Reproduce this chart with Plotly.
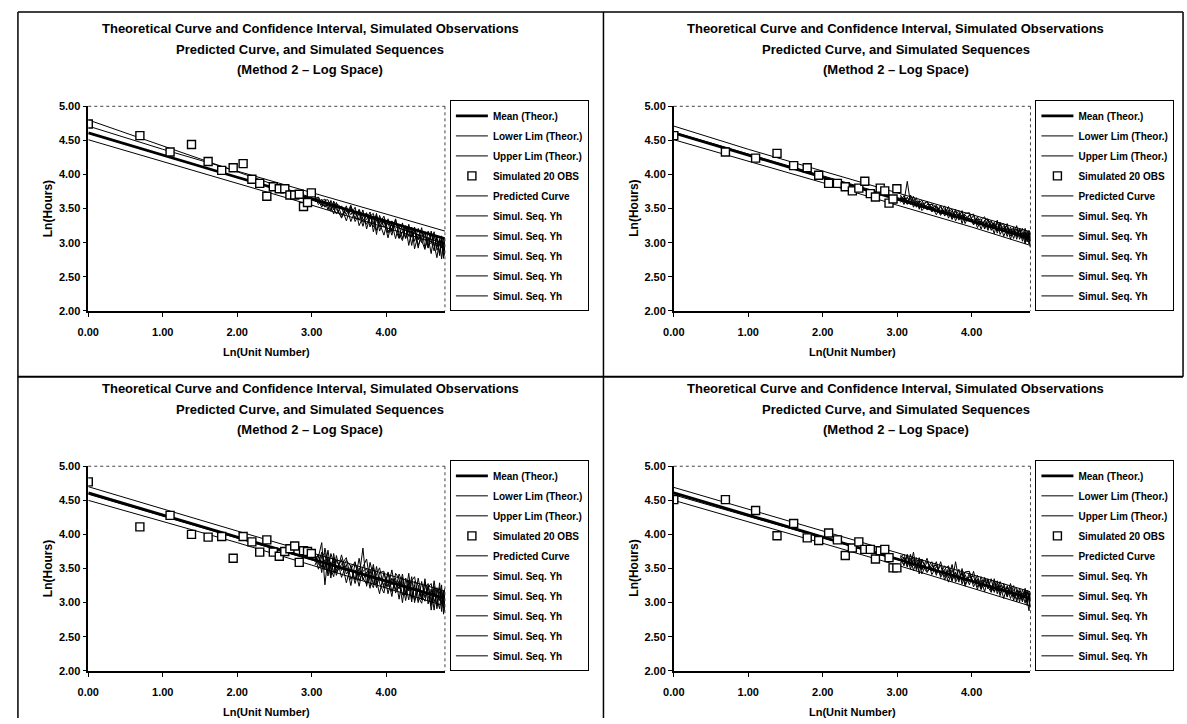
import numpy as np
import plotly.graph_objects as go

# ---------------- data ----------------
obs_units = list(range(1, 21))
seq_units = [21, 22, 23, 24, 25, 26, 27, 28, 30, 32, 34, 36, 38, 40, 42, 44, 46, 48, 50, 53,
             56, 59, 62, 65, 68, 71, 74, 77, 80, 84, 88, 92, 96, 100, 104, 108, 112, 115, 118, 120]
curve_x = [0.0, 1.0, 2.0, 3.0, 4.0, 4.79]
x_ticks = [0, 1, 2, 3, 4]
legend_names = ["Mean (Theor.)", "Lower Lim (Theor.)", "Upper Lim (Theor.)", "Simulated 20 OBS",
                "Predicted Curve", "Simul. Seq. Yh"]
title_lines = ["Theoretical Curve and Confidence Interval, Simulated Observations",
               "Predicted Curve, and Simulated Sequences",
               "(Method 2 \u2013 Log Space)"]

# Panel 1 (top-left)
p1_mean = [4.61, 4.28, 3.96, 3.64, 3.32, 3.06]
p1_lower = [4.51, 4.19, 3.88, 3.55, 3.22, 2.95]
p1_upper = [4.71, 4.37, 4.05, 3.73, 3.42, 3.17]
p1_pred = [4.80, 4.42, 4.04, 3.66, 3.28, 2.98]
p1_obs = [4.74, 4.57, 4.33, 4.44, 4.19, 4.06, 4.10, 4.16, 3.93, 3.87,
          3.68, 3.82, 3.79, 3.79, 3.70, 3.70, 3.71, 3.53, 3.59, 3.73]
p1_seq1 = [3.66, 3.59, 3.64, 3.53, 3.58, 3.48, 3.59, 3.49, 3.38, 3.54, 3.31, 3.47, 3.33, 3.48, 3.20, 3.38, 3.28, 3.43, 3.17, 3.33,
           3.07, 3.32, 3.19, 3.06, 3.29, 3.07, 3.20, 2.96, 3.20, 3.04, 3.22, 2.92, 3.08, 2.84, 3.12, 2.93, 3.06, 2.76, 3.01, 2.86]
p1_seq2 = [3.63, 3.66, 3.55, 3.61, 3.48, 3.62, 3.51, 3.42, 3.54, 3.41, 3.55, 3.31, 3.43, 3.24, 3.43, 3.30, 3.23, 3.40, 3.29, 3.11,
           3.35, 3.16, 3.35, 3.07, 3.16, 3.24, 2.96, 3.18, 3.02, 3.21, 3.03, 2.90, 3.17, 3.03, 2.88, 3.10, 2.81, 3.04, 2.88, 3.05]
p1_seq3 = [3.67, 3.56, 3.61, 3.64, 3.53, 3.46, 3.61, 3.53, 3.36, 3.51, 3.41, 3.52, 3.25, 3.38, 3.44, 3.23, 3.39, 3.12, 3.40, 3.23,
           3.29, 3.11, 3.34, 3.13, 3.03, 3.23, 3.15, 3.23, 2.91, 3.12, 3.00, 3.16, 2.93, 3.17, 2.98, 2.78, 3.04, 2.92, 3.08, 2.81]
p1_seq4 = [3.60, 3.63, 3.52, 3.62, 3.63, 3.51, 3.42, 3.57, 3.52, 3.32, 3.53, 3.41, 3.47, 3.30, 3.34, 3.45, 3.16, 3.34, 3.23, 3.35,
           3.14, 3.28, 3.06, 3.27, 3.20, 3.06, 3.27, 3.08, 3.18, 2.92, 3.16, 3.07, 2.92, 3.14, 2.95, 3.06, 2.84, 3.10, 2.77, 3.00]
p1_seq5 = [3.65, 3.67, 3.58, 3.52, 3.60, 3.58, 3.48, 3.59, 3.41, 3.46, 3.50, 3.36, 3.49, 3.35, 3.27, 3.39, 3.43, 3.18, 3.28, 3.39,
           3.17, 3.21, 3.29, 3.24, 3.06, 3.25, 3.09, 3.12, 3.23, 2.96, 3.09, 3.14, 2.96, 3.00, 3.16, 2.89, 2.97, 3.06, 2.81, 2.91]

# Panel 2 (top-right)
p2_mean = [4.61, 4.28, 3.96, 3.64, 3.32, 3.06]
p2_lower = [4.51, 4.20, 3.88, 3.55, 3.23, 2.96]
p2_upper = [4.71, 4.37, 4.05, 3.73, 3.41, 3.16]
p2_pred = [4.62, 4.30, 3.98, 3.66, 3.34, 3.09]
p2_obs = [4.57, 4.33, 4.24, 4.31, 4.13, 4.10, 3.99, 3.87, 3.87, 3.82,
          3.76, 3.80, 3.90, 3.72, 3.67, 3.80, 3.76, 3.58, 3.64, 3.79]
p2_seq1 = [3.70, 3.60, 3.90, 3.58, 3.63, 3.52, 3.59, 3.62, 3.48, 3.53, 3.41, 3.53, 3.42, 3.53, 3.35, 3.42, 3.47, 3.28, 3.41, 3.31,
           3.40, 3.22, 3.33, 3.38, 3.21, 3.27, 3.13, 3.31, 3.19, 3.25, 3.09, 3.23, 3.12, 3.25, 3.05, 3.15, 2.98, 3.17, 3.04, 3.10]
p2_seq2 = [3.61, 3.69, 3.60, 3.68, 3.52, 3.61, 3.51, 3.56, 3.60, 3.45, 3.53, 3.45, 3.54, 3.36, 3.47, 3.37, 3.41, 3.45, 3.28, 3.41,
           3.30, 3.35, 3.20, 3.33, 3.35, 3.18, 3.27, 3.18, 3.30, 3.09, 3.22, 3.15, 3.23, 3.05, 3.18, 3.06, 3.21, 3.06, 3.15, 2.93]
p2_seq3 = [3.67, 3.56, 3.67, 3.56, 3.68, 3.56, 3.62, 3.47, 3.56, 3.56, 3.45, 3.55, 3.39, 3.46, 3.49, 3.32, 3.43, 3.35, 3.43, 3.44,
           3.26, 3.33, 3.35, 3.20, 3.30, 3.32, 3.20, 3.33, 3.12, 3.22, 3.24, 3.05, 3.21, 3.11, 3.21, 3.02, 3.15, 3.03, 3.18, 3.02]
p2_seq4 = [3.59, 3.66, 3.61, 3.65, 3.56, 3.66, 3.49, 3.59, 3.51, 3.57, 3.52, 3.40, 3.50, 3.43, 3.37, 3.49, 3.33, 3.41, 3.35, 3.40,
           3.42, 3.26, 3.32, 3.22, 3.34, 3.22, 3.30, 3.14, 3.25, 3.28, 3.13, 3.20, 3.06, 3.20, 3.11, 3.21, 3.03, 3.13, 2.98, 3.13]
p2_seq5 = [3.68, 3.64, 3.56, 3.70, 3.61, 3.53, 3.60, 3.52, 3.61, 3.50, 3.55, 3.42, 3.47, 3.48, 3.34, 3.46, 3.37, 3.47, 3.33, 3.36,
           3.27, 3.38, 3.27, 3.32, 3.18, 3.31, 3.25, 3.17, 3.28, 3.16, 3.28, 3.10, 3.18, 3.09, 3.21, 3.09, 3.16, 3.01, 3.13, 2.96]

# Panel 3 (bottom-left)
p3_mean = [4.61, 4.28, 3.96, 3.64, 3.32, 3.06]
p3_lower = [4.50, 4.19, 3.88, 3.55, 3.22, 2.95]
p3_upper = [4.70, 4.37, 4.05, 3.73, 3.42, 3.17]
p3_pred = [4.59, 4.27, 3.95, 3.63, 3.31, 3.05]
p3_obs = [4.77, 4.11, 4.28, 4.00, 3.96, 3.97, 3.65, 3.97, 3.89, 3.74,
          3.92, 3.74, 3.68, 3.75, 3.79, 3.83, 3.59, 3.76, 3.75, 3.72]
p3_seq1 = [3.55, 3.67, 3.88, 3.26, 3.67, 3.41, 3.72, 3.47, 3.63, 3.29, 3.55, 3.33, 3.65, 3.33, 3.45, 3.21, 3.51, 3.32, 3.13, 3.44,
           3.23, 3.48, 3.14, 3.32, 3.00, 3.36, 3.17, 3.38, 3.00, 3.22, 3.04, 3.35, 2.98, 3.20, 2.89, 3.22, 3.03, 3.26, 2.83, 3.11]
p3_seq2 = [3.68, 3.49, 3.68, 3.73, 3.39, 3.60, 3.44, 3.69, 3.37, 3.56, 3.25, 3.58, 3.38, 3.80, 3.24, 3.48, 3.26, 3.53, 3.28, 3.14,
           3.45, 3.26, 3.36, 3.05, 3.37, 3.13, 3.43, 3.06, 3.26, 3.00, 3.31, 3.07, 3.25, 2.89, 3.17, 2.96, 3.29, 2.98, 3.16, 2.86]
p3_seq3 = [3.60, 3.71, 3.44, 3.80, 3.59, 3.36, 3.66, 3.44, 3.56, 3.66, 3.34, 3.48, 3.24, 3.52, 3.64, 3.31, 3.22, 3.42, 3.51, 3.21,
           3.34, 3.09, 3.43, 3.35, 3.11, 3.25, 3.04, 3.32, 3.38, 3.09, 2.99, 3.22, 3.28, 3.01, 3.32, 3.05, 2.91, 3.18, 3.00, 3.21]
p3_seq4 = [3.71, 3.56, 3.74, 3.48, 3.77, 3.49, 3.38, 3.62, 3.47, 3.62, 3.53, 3.28, 3.51, 3.36, 3.27, 3.59, 3.39, 3.22, 3.44, 3.46,
           3.13, 3.36, 3.19, 3.42, 3.28, 3.03, 3.32, 3.18, 3.04, 3.36, 3.10, 3.02, 3.23, 3.28, 3.01, 3.14, 3.22, 2.87, 3.17, 2.92]
p3_seq5 = [3.65, 3.70, 3.52, 3.63, 3.45, 3.72, 3.58, 3.40, 3.70, 3.42, 3.49, 3.60, 3.32, 3.46, 3.50, 3.34, 3.56, 3.27, 3.38, 3.25,
           3.43, 3.16, 3.32, 3.20, 3.42, 3.11, 3.28, 3.01, 3.31, 3.26, 3.05, 3.30, 3.10, 2.96, 3.24, 2.91, 3.16, 3.10, 2.92, 3.17]

# Panel 4 (bottom-right)
p4_mean = [4.61, 4.28, 3.96, 3.64, 3.32, 3.06]
p4_lower = [4.50, 4.19, 3.87, 3.55, 3.22, 2.95]
p4_upper = [4.69, 4.37, 4.05, 3.73, 3.41, 3.16]
p4_pred = [4.58, 4.27, 3.95, 3.63, 3.31, 3.06]
p4_obs = [4.51, 4.51, 4.35, 3.98, 4.16, 3.95, 3.91, 4.02, 3.92, 3.69,
          3.80, 3.89, 3.78, 3.78, 3.64, 3.76, 3.78, 3.66, 3.51, 3.51]
p4_seq1 = [3.68, 3.54, 3.71, 3.54, 3.74, 3.47, 3.61, 3.42, 3.60, 3.46, 3.60, 3.37, 3.47, 3.30, 3.48, 3.34, 3.49, 3.27, 3.41, 3.26,
           3.46, 3.23, 3.33, 3.16, 3.35, 3.19, 3.35, 3.13, 3.26, 3.06, 3.25, 3.12, 3.25, 3.01, 3.17, 3.03, 3.21, 3.03, 2.88, 3.14]
p4_seq2 = [3.58, 3.67, 3.52, 3.71, 3.54, 3.66, 3.42, 3.61, 3.50, 3.60, 3.40, 3.60, 3.38, 3.47, 3.31, 3.60, 3.33, 3.45, 3.24, 3.40,
           3.28, 3.40, 3.20, 3.34, 3.20, 3.35, 3.15, 3.25, 3.10, 3.28, 3.12, 3.28, 3.08, 3.17, 3.01, 3.19, 3.07, 3.18, 3.02, 2.93]
p4_seq3 = [3.66, 3.71, 3.57, 3.65, 3.47, 3.61, 3.63, 3.48, 3.65, 3.41, 3.53, 3.43, 3.54, 3.36, 3.56, 3.30, 3.40, 3.32, 3.45, 3.46,
           3.23, 3.35, 3.23, 3.37, 3.23, 3.15, 3.30, 3.17, 3.31, 3.15, 3.23, 3.06, 3.19, 3.21, 3.05, 3.14, 2.99, 3.15, 3.10, 2.98]
p4_seq4 = [3.61, 3.56, 3.68, 3.49, 3.63, 3.50, 3.66, 3.56, 3.44, 3.56, 3.43, 3.55, 3.33, 3.51, 3.38, 3.45, 3.30, 3.50, 3.32, 3.37,
           3.39, 3.19, 3.38, 3.23, 3.31, 3.17, 3.25, 3.32, 3.14, 3.23, 3.08, 3.23, 3.03, 3.19, 3.15, 3.01, 3.18, 2.96, 3.13, 3.08]
p4_seq5 = [3.70, 3.64, 3.54, 3.62, 3.66, 3.54, 3.50, 3.64, 3.46, 3.52, 3.55, 3.40, 3.49, 3.54, 3.33, 3.43, 3.34, 3.43, 3.27, 3.44,
           3.30, 3.33, 3.19, 3.32, 3.34, 3.20, 3.17, 3.29, 3.18, 3.24, 3.10, 3.19, 3.10, 3.05, 3.21, 3.07, 3.16, 3.01, 3.17, 3.02]

panels = [
    dict(mean=p1_mean, lower=p1_lower, upper=p1_upper, pred=p1_pred, obs=p1_obs,
         seqs=[p1_seq1, p1_seq2, p1_seq3, p1_seq4, p1_seq5]),
    dict(mean=p2_mean, lower=p2_lower, upper=p2_upper, pred=p2_pred, obs=p2_obs,
         seqs=[p2_seq1, p2_seq2, p2_seq3, p2_seq4, p2_seq5]),
    dict(mean=p3_mean, lower=p3_lower, upper=p3_upper, pred=p3_pred, obs=p3_obs,
         seqs=[p3_seq1, p3_seq2, p3_seq3, p3_seq4, p3_seq5]),
    dict(mean=p4_mean, lower=p4_lower, upper=p4_upper, pred=p4_pred, obs=p4_obs,
         seqs=[p4_seq1, p4_seq2, p4_seq3, p4_seq4, p4_seq5]),
]

# ---------------- layout helpers ----------------
W, H = 1187, 724
FONT = "Liberation Sans Narrow, Arial Narrow, Liberation Sans, Arial, sans-serif"
offsets = [(0, 0), (591, 0), (0, 366), (591, 366)]


def px(x):
    return x / W


def py(y):
    return 1 - y / H


obs_x = np.log(np.array(obs_units, dtype=float))
seq_x = np.log(np.array(seq_units, dtype=float))

fig = go.Figure()
annotations = []
shapes = []
layout_axes = {}

for i, (p, (dx, dy)) in enumerate(zip(panels, offsets)):
    k = "" if i == 0 else str(i + 1)
    xa, ya = "x" + k, "y" + k
    lg = "legend" + k
    common = dict(xaxis=xa, yaxis=ya, legend=lg)
    for j, s in enumerate(p["seqs"]):
        fig.add_trace(go.Scatter(x=seq_x, y=s, mode="lines", name=legend_names[5],
                                 line=dict(color="black", width=1), legendrank=6 + j,
                                 legendgroup=f"s{i}{j}", **common))
    fig.add_trace(go.Scatter(x=curve_x, y=p["lower"], mode="lines", name=legend_names[1],
                             line=dict(color="black", width=1), legendrank=2,
                             legendgroup=f"l{i}", **common))
    fig.add_trace(go.Scatter(x=curve_x, y=p["upper"], mode="lines", name=legend_names[2],
                             line=dict(color="black", width=1), legendrank=3,
                             legendgroup=f"u{i}", **common))
    fig.add_trace(go.Scatter(x=curve_x, y=p["pred"], mode="lines", name=legend_names[4],
                             line=dict(color="black", width=1), legendrank=5,
                             legendgroup=f"p{i}", **common))
    fig.add_trace(go.Scatter(x=curve_x, y=p["mean"], mode="lines", name=legend_names[0],
                             line=dict(color="black", width=2.8), legendrank=1,
                             legendgroup=f"m{i}", **common))
    fig.add_trace(go.Scatter(x=obs_x, y=p["obs"], mode="markers", name=legend_names[3],
                             marker=dict(symbol="square", size=8, color="white",
                                         line=dict(color="black", width=1.4)),
                             legendrank=4, legendgroup=f"o{i}", **common))

    x0, x1 = 78 + dx, 438 + dx
    y0, y1 = 102 + dy, 310 + dy
    axis_font = dict(family=FONT, size=11, color="black", weight=700)
    layout_axes["xaxis" + k] = dict(
        domain=[px(x0), px(x1)], anchor=ya, range=[0, 4.79], tickvals=x_ticks,
        tickformat=".2f", ticks="outside", ticklen=4, tickwidth=1, tickcolor="black",
        showline=True, linecolor="black", linewidth=1.5, showgrid=False, zeroline=False,
        tickfont=axis_font, ticklabelstandoff=6)
    layout_axes["yaxis" + k] = dict(
        domain=[py(y1), py(y0)], anchor=xa, range=[2, 5], dtick=0.5, tick0=2,
        tickformat=".2f", ticks="outside", ticklen=4, tickwidth=1, tickcolor="black",
        showline=True, linecolor="black", linewidth=1.5, showgrid=False, zeroline=False,
        tickfont=axis_font)
    layout_axes[lg] = dict(
        x=px(443 + dx), y=py(96 + dy), xanchor="left", yanchor="top",
        bordercolor="black", borderwidth=1, bgcolor="white",
        font=dict(family=FONT, size=10, color="black", weight=700), tracegroupgap=1,
        itemwidth=32)

    shapes.append(dict(type="line", xref="paper", yref="paper", x0=px(x0), x1=px(x1),
                       y0=py(y0), y1=py(y0), line=dict(color="#444", width=1, dash="dot")))
    shapes.append(dict(type="line", xref="paper", yref="paper", x0=px(x1), x1=px(x1),
                       y0=py(y0), y1=py(y1), line=dict(color="#444", width=1, dash="dot")))

    for txt, ty in zip(title_lines, [23, 44, 65]):
        annotations.append(dict(text=f"<b>{txt}</b>", x=px(302 + dx), y=py(ty + dy), xref="paper",
                                yref="paper", showarrow=False, xanchor="center", yanchor="middle",
                                font=dict(family=FONT, size=13, color="black")))
    annotations.append(dict(text="<b>Ln(Hours)</b>", x=px(37 + dx), y=py(206 + dy), xref="paper",
                            yref="paper", showarrow=False, textangle=-90, xanchor="center",
                            yanchor="middle", font=dict(family=FONT, size=12, color="black")))
    annotations.append(dict(text="<b>Ln(Unit Number)</b>", x=px(258 + dx), y=py(352 + dy),
                            xref="paper", yref="paper", showarrow=False, xanchor="center",
                            yanchor="middle", font=dict(family=FONT, size=11, color="black")))

# table borders
for (a, b, c, d, w) in [(7, 6, 1183, 6, 1.5), (7, 6, 7, 724, 1.5), (1183, 6, 1183, 377, 1.5),
                        (598, 6, 598, 724, 1.5), (7, 377, 1183, 377, 2)]:
    shapes.append(dict(type="line", xref="paper", yref="paper", x0=px(a), y0=py(b), x1=px(c),
                       y1=py(d), line=dict(color="black", width=w)))

fig.update_layout(width=W, height=H, margin=dict(l=0, r=0, t=0, b=0),
                  paper_bgcolor="white", plot_bgcolor="white", showlegend=True,
                  annotations=annotations, shapes=shapes, **layout_axes)

fig.write_html("out.html")
